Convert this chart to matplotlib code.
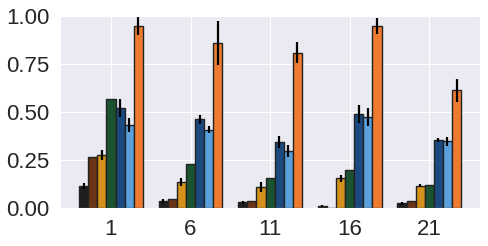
import matplotlib
matplotlib.use("Agg")
import matplotlib.pyplot as plt
import numpy as np
import seaborn as sns

sns.set_style("darkgrid")
plt.rcParams['font.family'] = ['Liberation Sans', 'DejaVu Sans']

# group positions on the x axis
groups = [1, 6, 11, 16, 21]

# one list per series (7 series per group)
s_black = [0.115, 0.035, 0.030, 0.012, 0.026]
s_brown = [0.267, 0.047, 0.036, 0.0, 0.036]
s_gold = [0.274, 0.137, 0.111, 0.155, 0.116]
s_green = [0.568, 0.229, 0.158, 0.200, 0.121]
s_dblue = [0.522, 0.462, 0.344, 0.491, 0.354]
s_lblue = [0.432, 0.408, 0.297, 0.476, 0.347]
s_orange = [0.948, 0.858, 0.809, 0.948, 0.613]

# error half-widths (None = no error bar)
e_black = [0.017, 0.010, 0.006, 0.004, 0.008]
e_brown = None
e_gold = [0.026, 0.020, 0.026, 0.017, 0.008]
e_green = None
e_dblue = [0.046, 0.023, 0.030, 0.048, 0.010]
e_lblue = [0.035, 0.017, 0.029, 0.046, 0.024]
e_orange = [0.048, 0.115, 0.055, 0.042, 0.059]

series = [s_black, s_brown, s_gold, s_green, s_dblue, s_lblue, s_orange]
errors = [e_black, e_brown, e_gold, e_green, e_dblue, e_lblue, e_orange]
colors = ['#1e1e1e', '#6a3515', '#d4921c', '#1b5230', '#1b4a80', '#5aa0dc', '#ee7b30']

fig = plt.figure(figsize=(4.88, 2.46), dpi=100)
ax = fig.add_axes([0.123, 0.154, 0.861, 0.781])

n = len(series)
w = 4 / n
x = np.array(groups, dtype=float)
for i, (vals, err, c) in enumerate(zip(series, errors, colors)):
    pos = x + (i - (n - 1) / 2) * w
    ax.bar(pos, vals, width=w, color=c, edgecolor='#222222', linewidth=1.0,
           yerr=err, error_kw=dict(ecolor='black', elinewidth=1.6, capsize=0))

ax.set_xticks(groups)
ax.set_ylim(0, 1.0)
ax.set_yticks([0, 0.25, 0.5, 0.75, 1.0])
ax.set_yticklabels(['0.00', '0.25', '0.50', '0.75', '1.00'])
ax.tick_params(labelsize=16, pad=4)

fig.savefig('out.png', dpi=100)
